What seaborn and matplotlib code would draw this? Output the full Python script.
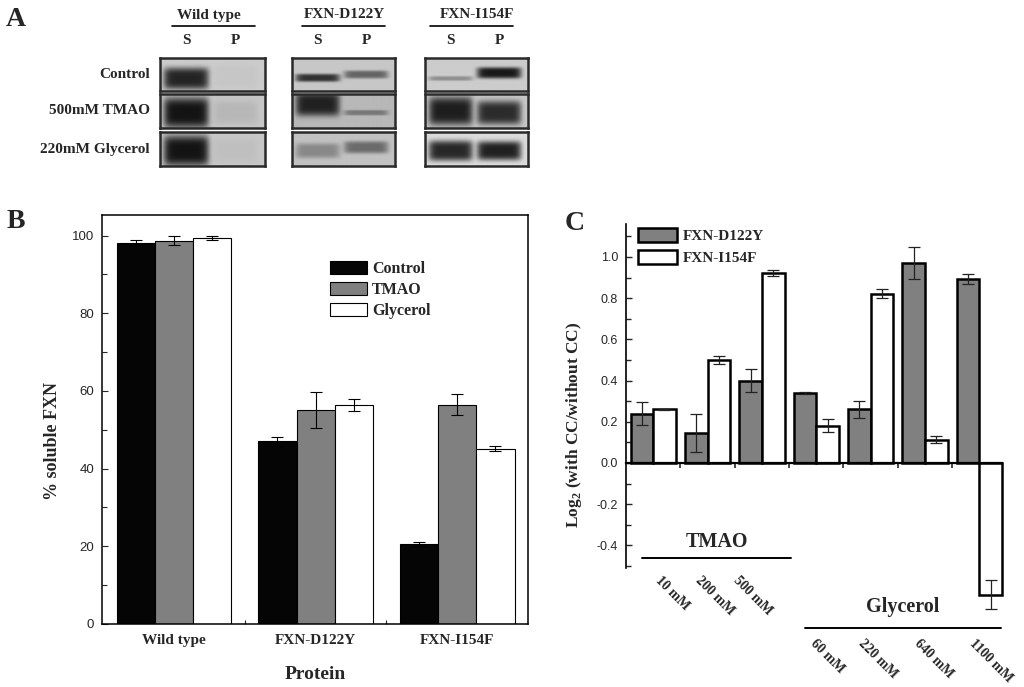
import numpy as np
import pandas as pd
import seaborn as sns
import matplotlib.pyplot as plt
from matplotlib.lines import Line2D
from matplotlib.ticker import MultipleLocator, FixedLocator

# ---- panel A: western blots (band darkness 0..1 for lanes S and P) ----
blot_proteins = ["Wild type", "FXN-D122Y", "FXN-I154F"]
blot_conditions = ["Control", "500mM TMAO", "220mM Glycerol"]
blot_lanes = ["S", "P"]
band_darkness = [
    [[0.82, 0.03], [0.90, 0.08], [0.90, 0.04]],
    [[0.75, 0.50], [0.82, 0.35], [0.30, 0.45]],
    [[0.30, 0.88], [0.85, 0.78], [0.82, 0.85]],
]
band_halfwidth = [
    [[0.33, 0.35], [0.45, 0.35], [0.45, 0.35]],
    [[0.12, 0.12], [0.35, 0.08], [0.22, 0.18]],
    [[0.07, 0.17], [0.42, 0.35], [0.30, 0.28]],
]
band_center = [
    [[0.62, 0.55], [0.55, 0.55], [0.55, 0.55]],
    [[0.60, 0.50], [0.30, 0.55], [0.55, 0.45]],
    [[0.62, 0.45], [0.50, 0.55], [0.55, 0.55]],
]
blot_background = [
    [0.80, 0.78, 0.78],
    [0.78, 0.72, 0.76],
    [0.80, 0.78, 0.86],
]

# ---- panel B: % soluble FXN ----
proteins = ["Wild type", "FXN-D122Y", "FXN-I154F"]
treatments = ["Control", "TMAO", "Glycerol"]
soluble_control = [98.2, 47.0, 20.6]
soluble_tmao = [98.7, 55.1, 56.4]
soluble_glycerol = [99.3, 56.4, 45.1]
err_control = [0.7, 1.1, 0.4]
err_tmao = [1.2, 4.6, 2.7]
err_glycerol = [0.5, 1.6, 0.6]

# ---- panel C: log2 (with CC / without CC) ----
concentrations = ["10 mM", "200 mM", "500 mM", "60 mM", "220 mM", "640 mM", "1100 mM"]
cosolvent = ["TMAO", "TMAO", "TMAO", "Glycerol", "Glycerol", "Glycerol", "Glycerol"]
mutants = ["FXN-D122Y", "FXN-I154F"]
log2_d122y = [0.24, 0.146, 0.40, 0.341, 0.26, 0.971, 0.895]
log2_i154f = [0.26, 0.50, 0.924, 0.18, 0.822, 0.113, -0.639]
err_d122y = [0.057, 0.093, 0.057, 0.005, 0.04, 0.077, 0.024]
err_i154f = [0.003, 0.019, 0.015, 0.032, 0.022, 0.018, 0.071]

sns.set_theme(style="ticks")
plt.rcParams["font.family"] = ["Liberation Sans", "DejaVu Sans"]
plt.rcParams["axes.unicode_minus"] = False
plt.rcParams["mathtext.fontset"] = "custom"
plt.rcParams["mathtext.rm"] = "Liberation Serif:bold"
plt.rcParams["mathtext.bf"] = "Liberation Serif:bold"
SERIF = dict(family="Liberation Serif", weight="bold")

W, H = 1024, 687
fig = plt.figure(figsize=(W / 100, H / 100), dpi=100)


def px_axes(left, top, right, bottom):
    return fig.add_axes([left / W, 1 - bottom / H, (right - left) / W, (bottom - top) / H])


def fig_line(x0, x1, y, lw=1.2):
    fig.add_artist(Line2D([x0 / W, x1 / W], [1 - y / H, 1 - y / H], color="black", lw=lw))


# ================= panel A =================
fig.text(16 / W, 1 - 20 / H, "A", ha="center", va="center", size=20, **SERIF)

box_x = [(160, 265), (292, 395), (425, 528)]
box_y = [(58, 91), (94, 128), (132, 166)]
header_x = [209, 344, 477]
underline_x = [(172, 255), (302, 385), (430, 513)]

yy, xx = np.mgrid[0:34, 0:104]
ys = (yy + 0.5) / 34
xs = (xx + 0.5) / 104
for i, prot in enumerate(blot_proteins):
    fig.text(header_x[i] / W, 1 - 15 / H, prot, ha="center", va="center", size=11, **SERIF)
    fig_line(*underline_x[i], 26)
    x0, x1 = box_x[i]
    for k, lane in enumerate(blot_lanes):
        lx = x0 + (x1 - x0) * (0.25 + 0.47 * k)
        fig.text(lx / W, 1 - 40 / H, lane, ha="center", va="center", size=11, **SERIF)
    for j, cond in enumerate(blot_conditions):
        ax = px_axes(x0, box_y[j][0], x1, box_y[j][1])
        img = np.full(xs.shape, blot_background[i][j])
        for k in range(2):
            xc = 0.25 + 0.47 * k
            px = np.exp(-np.abs((xs - xc) / 0.215) ** 8)
            py = np.exp(-np.abs((ys - band_center[i][j][k]) / band_halfwidth[i][j][k]) ** 4)
            img = img * (1 - band_darkness[i][j][k] * px * py)
        ax.imshow(img, cmap="gray", vmin=0, vmax=1, aspect="auto", interpolation="bilinear")
        ax.set_xticks([])
        ax.set_yticks([])
        for s in ax.spines.values():
            s.set_linewidth(1.8)
            s.set_color("#2a2a2a")

for j, cond in enumerate(blot_conditions):
    fig.text(150 / W, 1 - (box_y[j][0] + box_y[j][1]) / 2 / H, cond,
             ha="right", va="center", size=11, **SERIF)

# ================= panel B =================
fig.text(16 / W, 1 - 222 / H, "B", ha="center", va="center", size=20, **SERIF)
axB = px_axes(102, 215, 528, 624)

df_b = pd.DataFrame({
    "protein": proteins * 3,
    "treatment": np.repeat(treatments, 3),
    "value": soluble_control + soluble_tmao + soluble_glycerol,
    "err": err_control + err_tmao + err_glycerol,
})
sns.barplot(data=df_b, x="protein", y="value", hue="treatment", order=proteins,
            hue_order=treatments, palette=["#050505", "#808080", "#ffffff"],
            saturation=1, edgecolor="black", linewidth=0.8, width=0.81, gap=0,
            errorbar=None, legend=False, ax=axB)
bar_containers = list(axB.containers)
for cont, tr in zip(bar_containers, treatments):
    sub = df_b[df_b["treatment"] == tr].set_index("protein").loc[proteins]
    bx = [p.get_x() + p.get_width() / 2 for p in cont.patches]
    axB.errorbar(bx, sub["value"], yerr=sub["err"], fmt="none", ecolor="black",
                 elinewidth=0.8, capsize=4, capthick=0.8, zorder=5)

axB.set_xlim(-0.51, 2.5)
axB.set_ylim(0, 105.3)
axB.yaxis.set_major_locator(FixedLocator([0, 20, 40, 60, 80, 100]))
axB.yaxis.set_minor_locator(MultipleLocator(10))
axB.xaxis.set_minor_locator(FixedLocator([0.5, 1.5]))
axB.tick_params(axis="y", which="both", direction="in", labelsize=9.5, pad=5.8)
axB.tick_params(axis="y", which="major", length=4, width=0.8)
axB.tick_params(axis="y", which="minor", length=3.5, width=0.8)
axB.tick_params(axis="x", which="major", length=0, pad=7)
axB.tick_params(axis="x", which="minor", direction="in", length=3, width=0.8)
for lab in axB.get_xticklabels():
    lab.set_fontfamily("Liberation Serif")
    lab.set_fontweight("bold")
    lab.set_fontsize(11)
for s in axB.spines.values():
    s.set_linewidth(1.1)
    s.set_color("black")
axB.set_xlabel("Protein", size=14, labelpad=14, **SERIF)
axB.set_ylabel("% soluble FXN", size=13, **SERIF)
axB.yaxis.set_label_coords(-0.096, 0.447)
axB.legend([c.patches[0] for c in bar_containers], treatments, loc="upper left",
           bbox_to_anchor=(0.535, 0.887), frameon=False, borderpad=0, borderaxespad=0,
           handlelength=2.3, handleheight=0.9, handletextpad=0.35, labelspacing=0.3,
           prop=dict(size=11.5, **SERIF))

# ================= panel C =================
fig.text(575 / W, 1 - 223 / H, "C", ha="center", va="center", size=20, **SERIF)
axC = px_axes(626, 224, 1002, 568)

df_c = pd.DataFrame({
    "conc": concentrations * 2,
    "mutant": np.repeat(mutants, len(concentrations)),
    "value": log2_d122y + log2_i154f,
    "err": err_d122y + err_i154f,
})
sns.barplot(data=df_c, x="conc", y="value", hue="mutant", order=concentrations,
            hue_order=mutants, palette=["#808080", "#ffffff"], saturation=1,
            edgecolor="black", linewidth=1.8, width=0.83, gap=0, errorbar=None,
            legend=False, ax=axC)
bar_containers_c = list(axC.containers)
for cont, mt in zip(bar_containers_c, mutants):
    sub = df_c[df_c["mutant"] == mt].set_index("conc").loc[concentrations]
    for p in cont.patches:
        p.set_clip_on(False)
    bx = [p.get_x() + p.get_width() / 2 for p in cont.patches]
    eb = axC.errorbar(bx, sub["value"], yerr=sub["err"], fmt="none", ecolor="#222222",
                      elinewidth=0.9, capsize=4.5, capthick=0.9, zorder=5)
    for art in eb.lines[1] + eb.lines[2]:
        art.set_clip_on(False)

axC.set_xlim(-0.5, 6.415)
axC.set_ylim(-0.51, 1.16)
axC.spines["top"].set_visible(False)
axC.spines["right"].set_visible(False)
axC.spines["bottom"].set_position(("data", 0))
axC.spines["bottom"].set_linewidth(1.6)
axC.spines["left"].set_linewidth(1.2)
axC.spines["bottom"].set_color("black")
axC.spines["left"].set_color("black")
axC.yaxis.set_major_locator(FixedLocator([-0.4, -0.2, 0.0, 0.2, 0.4, 0.6, 0.8, 1.0]))
axC.yaxis.set_minor_locator(MultipleLocator(0.1))
axC.yaxis.set_major_formatter(plt.FuncFormatter(lambda v, _: f"{v:.1f}"))
axC.tick_params(axis="y", which="both", direction="in", labelsize=9, pad=5.8, width=1.0)
axC.tick_params(axis="y", which="major", length=4.3)
axC.tick_params(axis="y", which="minor", length=3.5)
axC.set_xticks(range(len(concentrations)))
axC.set_xticklabels([])
axC.xaxis.set_minor_locator(FixedLocator(np.arange(0.5, len(concentrations) - 1, 1)))
axC.tick_params(axis="x", which="major", length=0)
axC.tick_params(axis="x", which="minor", direction="out", length=3.5, width=1.2)
axC.set_xlabel("")
axC.set_ylabel(r"Log$_{2}$ (with CC/without CC)", size=12.5, **SERIF)
axC.yaxis.set_label_coords(-0.112, 0.417)

# concentration labels, two rows (TMAO higher, Glycerol lower)
label_shift = [0.17, -0.11, -0.4, 0.02, -0.1, -0.07, -0.07]
for i, (conc, cs) in enumerate(zip(concentrations, cosolvent)):
    y = -0.538 if cs == "TMAO" else -0.845
    axC.text(i + label_shift[i], y, conc, rotation=-45, rotation_mode="anchor",
             ha="left", va="top", size=10, clip_on=False, **SERIF)

groups = [("TMAO", 0, 2, -0.2, 0.53, -0.385, -0.46),
          ("Glycerol", 3, 6, -0.2, 0.39, -0.70, -0.80)]
for name, first, last, lpad, rpad, ty, ly in groups:
    axC.plot([first + lpad, last + rpad], [ly, ly], color="black", lw=1.4, clip_on=False)
    axC.text((first + lpad + last + rpad) / 2, ty, name, ha="center", va="center",
             size=14.5, clip_on=False, **SERIF)

axC.legend([c.patches[0] for c in bar_containers_c], mutants, loc="upper left",
           bbox_to_anchor=(0.032, 0.988), frameon=False, borderpad=0, borderaxespad=0,
           handlelength=2.55, handleheight=1.05, handletextpad=0.4, labelspacing=0.42,
           prop=dict(size=11, **SERIF))

fig.savefig("out.png", dpi=100)
